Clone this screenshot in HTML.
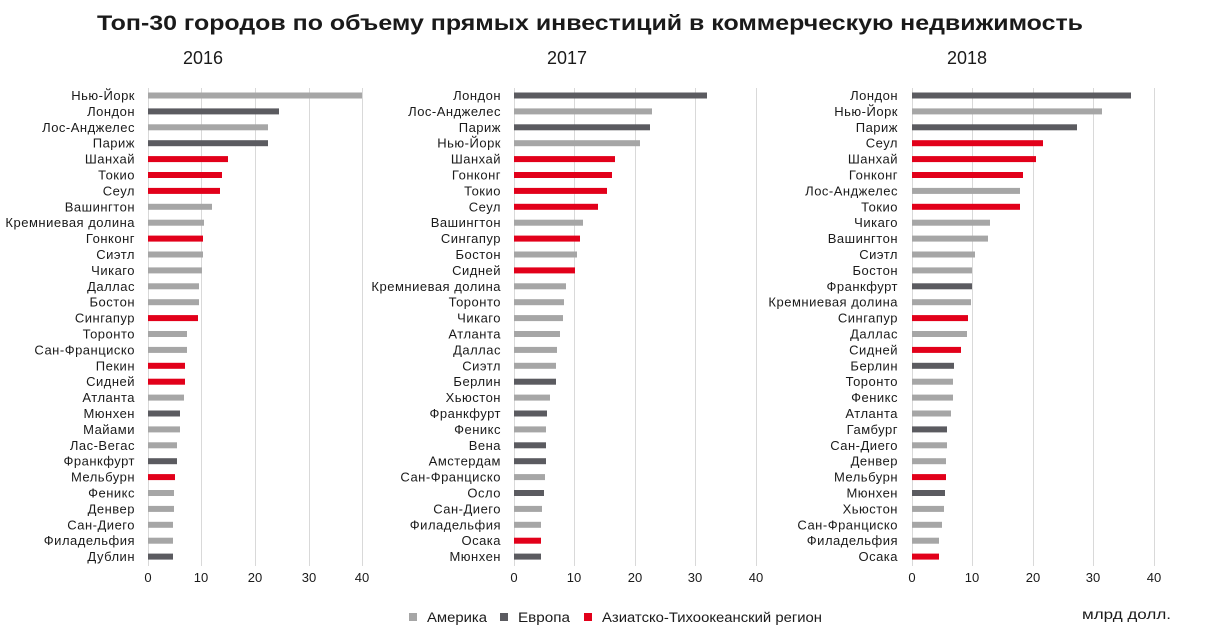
<!DOCTYPE html>
<html><head><meta charset="utf-8"><style>
html,body{margin:0;padding:0;background:#fff}
svg{display:block}
text{font-family:"Liberation Sans",Arial,sans-serif;fill:#1a1a1a}
.l{font-size:13px;letter-spacing:0.5px;text-anchor:end}
.t{font-size:13px;text-anchor:middle}
.a{fill:#a6a6a6}.e{fill:#5b5b60}.r{fill:#e2001a}
.g{stroke:#d9d9d9;stroke-width:1}
</style></head><body>
<svg width="1207" height="635" viewBox="0 0 1207 635" xmlns="http://www.w3.org/2000/svg">
<text x="590" y="30" style="font-size:21px;font-weight:bold;text-anchor:middle" textLength="986" lengthAdjust="spacingAndGlyphs">Топ-30 городов по объему прямых инвестиций в коммерческую недвижимость</text>
<text x="203" y="64" style="font-size:18px;text-anchor:middle">2016</text>
<text x="567" y="64" style="font-size:18px;text-anchor:middle">2017</text>
<text x="967" y="64" style="font-size:18px;text-anchor:middle">2018</text>

<!-- gridlines -->
<g class="g">
<line x1="148.5" y1="88" x2="148.5" y2="566"/><line x1="201.5" y1="88" x2="201.5" y2="566"/><line x1="255.5" y1="88" x2="255.5" y2="566"/><line x1="309.5" y1="88" x2="309.5" y2="566"/><line x1="362.5" y1="88" x2="362.5" y2="566"/>
<line x1="514.5" y1="88" x2="514.5" y2="566"/><line x1="574.5" y1="88" x2="574.5" y2="566"/><line x1="635.5" y1="88" x2="635.5" y2="566"/><line x1="695.5" y1="88" x2="695.5" y2="566"/><line x1="756.5" y1="88" x2="756.5" y2="566"/>
<line x1="912.5" y1="88" x2="912.5" y2="566"/><line x1="972.5" y1="88" x2="972.5" y2="566"/><line x1="1033.5" y1="88" x2="1033.5" y2="566"/><line x1="1093.5" y1="88" x2="1093.5" y2="566"/><line x1="1154.5" y1="88" x2="1154.5" y2="566"/>
</g>

<!-- tick labels -->
<text class="t" x="148" y="582">0</text><text class="t" x="201" y="582">10</text><text class="t" x="255" y="582">20</text><text class="t" x="309" y="582">30</text><text class="t" x="362" y="582">40</text>
<text class="t" x="514" y="582">0</text><text class="t" x="574" y="582">10</text><text class="t" x="635" y="582">20</text><text class="t" x="695" y="582">30</text><text class="t" x="756" y="582">40</text>
<text class="t" x="912" y="582">0</text><text class="t" x="972" y="582">10</text><text class="t" x="1033" y="582">20</text><text class="t" x="1093" y="582">30</text><text class="t" x="1154" y="582">40</text>

<!-- Panel 2016 -->
<rect class="a" x="148" y="92.5" width="214" height="6"/><text class="l" x="135" y="100">Нью-Йорк</text>
<rect class="e" x="148" y="108.4" width="131" height="6"/><text class="l" x="135" y="115.9">Лондон</text>
<rect class="a" x="148" y="124.3" width="120" height="6"/><text class="l" x="135" y="131.8">Лос-Анджелес</text>
<rect class="e" x="148" y="140.2" width="120" height="6"/><text class="l" x="135" y="147.7">Париж</text>
<rect class="r" x="148" y="156.1" width="80" height="6"/><text class="l" x="135" y="163.6">Шанхай</text>
<rect class="r" x="148" y="172" width="74" height="6"/><text class="l" x="135" y="179.5">Токио</text>
<rect class="r" x="148" y="187.9" width="72" height="6"/><text class="l" x="135" y="195.4">Сеул</text>
<rect class="a" x="148" y="203.8" width="64" height="6"/><text class="l" x="135" y="211.3">Вашингтон</text>
<rect class="a" x="148" y="219.7" width="56" height="6"/><text class="l" x="135" y="227.2">Кремниевая долина</text>
<rect class="r" x="148" y="235.6" width="55" height="6"/><text class="l" x="135" y="243.1">Гонконг</text>
<rect class="a" x="148" y="251.5" width="55" height="6"/><text class="l" x="135" y="259">Сиэтл</text>
<rect class="a" x="148" y="267.4" width="54" height="6"/><text class="l" x="135" y="274.9">Чикаго</text>
<rect class="a" x="148" y="283.3" width="51" height="6"/><text class="l" x="135" y="290.8">Даллас</text>
<rect class="a" x="148" y="299.2" width="51" height="6"/><text class="l" x="135" y="306.7">Бостон</text>
<rect class="r" x="148" y="315.1" width="50" height="6"/><text class="l" x="135" y="322.6">Сингапур</text>
<rect class="a" x="148" y="331" width="39" height="6"/><text class="l" x="135" y="338.5">Торонто</text>
<rect class="a" x="148" y="346.9" width="39" height="6"/><text class="l" x="135" y="354.4">Сан-Франциско</text>
<rect class="r" x="148" y="362.8" width="37" height="6"/><text class="l" x="135" y="370.3">Пекин</text>
<rect class="r" x="148" y="378.7" width="37" height="6"/><text class="l" x="135" y="386.2">Сидней</text>
<rect class="a" x="148" y="394.6" width="36" height="6"/><text class="l" x="135" y="402.1">Атланта</text>
<rect class="e" x="148" y="410.5" width="32" height="6"/><text class="l" x="135" y="418">Мюнхен</text>
<rect class="a" x="148" y="426.4" width="32" height="6"/><text class="l" x="135" y="433.9">Майами</text>
<rect class="a" x="148" y="442.3" width="29" height="6"/><text class="l" x="135" y="449.8">Лас-Вегас</text>
<rect class="e" x="148" y="458.2" width="29" height="6"/><text class="l" x="135" y="465.7">Франкфурт</text>
<rect class="r" x="148" y="474.1" width="27" height="6"/><text class="l" x="135" y="481.6">Мельбурн</text>
<rect class="a" x="148" y="490" width="26" height="6"/><text class="l" x="135" y="497.5">Феникс</text>
<rect class="a" x="148" y="505.9" width="26" height="6"/><text class="l" x="135" y="513.4">Денвер</text>
<rect class="a" x="148" y="521.8" width="25" height="6"/><text class="l" x="135" y="529.3">Сан-Диего</text>
<rect class="a" x="148" y="537.7" width="25" height="6"/><text class="l" x="135" y="545.2">Филадельфия</text>
<rect class="e" x="148" y="553.6" width="25" height="6"/><text class="l" x="135" y="561.1">Дублин</text>

<!-- Panel 2017 -->
<rect class="e" x="514" y="92.5" width="193" height="6"/><text class="l" x="501" y="100">Лондон</text>
<rect class="a" x="514" y="108.4" width="138" height="6"/><text class="l" x="501" y="115.9">Лос-Анджелес</text>
<rect class="e" x="514" y="124.3" width="136" height="6"/><text class="l" x="501" y="131.8">Париж</text>
<rect class="a" x="514" y="140.2" width="126" height="6"/><text class="l" x="501" y="147.7">Нью-Йорк</text>
<rect class="r" x="514" y="156.1" width="101" height="6"/><text class="l" x="501" y="163.6">Шанхай</text>
<rect class="r" x="514" y="172" width="98" height="6"/><text class="l" x="501" y="179.5">Гонконг</text>
<rect class="r" x="514" y="187.9" width="93" height="6"/><text class="l" x="501" y="195.4">Токио</text>
<rect class="r" x="514" y="203.8" width="84" height="6"/><text class="l" x="501" y="211.3">Сеул</text>
<rect class="a" x="514" y="219.7" width="69" height="6"/><text class="l" x="501" y="227.2">Вашингтон</text>
<rect class="r" x="514" y="235.6" width="66" height="6"/><text class="l" x="501" y="243.1">Сингапур</text>
<rect class="a" x="514" y="251.5" width="63" height="6"/><text class="l" x="501" y="259">Бостон</text>
<rect class="r" x="514" y="267.4" width="61" height="6"/><text class="l" x="501" y="274.9">Сидней</text>
<rect class="a" x="514" y="283.3" width="52" height="6"/><text class="l" x="501" y="290.8">Кремниевая долина</text>
<rect class="a" x="514" y="299.2" width="50" height="6"/><text class="l" x="501" y="306.7">Торонто</text>
<rect class="a" x="514" y="315.1" width="49" height="6"/><text class="l" x="501" y="322.6">Чикаго</text>
<rect class="a" x="514" y="331" width="46" height="6"/><text class="l" x="501" y="338.5">Атланта</text>
<rect class="a" x="514" y="346.9" width="43" height="6"/><text class="l" x="501" y="354.4">Даллас</text>
<rect class="a" x="514" y="362.8" width="42" height="6"/><text class="l" x="501" y="370.3">Сиэтл</text>
<rect class="e" x="514" y="378.7" width="42" height="6"/><text class="l" x="501" y="386.2">Берлин</text>
<rect class="a" x="514" y="394.6" width="36" height="6"/><text class="l" x="501" y="402.1">Хьюстон</text>
<rect class="e" x="514" y="410.5" width="33" height="6"/><text class="l" x="501" y="418">Франкфурт</text>
<rect class="a" x="514" y="426.4" width="32" height="6"/><text class="l" x="501" y="433.9">Феникс</text>
<rect class="e" x="514" y="442.3" width="32" height="6"/><text class="l" x="501" y="449.8">Вена</text>
<rect class="e" x="514" y="458.2" width="32" height="6"/><text class="l" x="501" y="465.7">Амстердам</text>
<rect class="a" x="514" y="474.1" width="31" height="6"/><text class="l" x="501" y="481.6">Сан-Франциско</text>
<rect class="e" x="514" y="490" width="30" height="6"/><text class="l" x="501" y="497.5">Осло</text>
<rect class="a" x="514" y="505.9" width="28" height="6"/><text class="l" x="501" y="513.4">Сан-Диего</text>
<rect class="a" x="514" y="521.8" width="27" height="6"/><text class="l" x="501" y="529.3">Филадельфия</text>
<rect class="r" x="514" y="537.7" width="27" height="6"/><text class="l" x="501" y="545.2">Осака</text>
<rect class="e" x="514" y="553.6" width="27" height="6"/><text class="l" x="501" y="561.1">Мюнхен</text>

<!-- Panel 2018 -->
<rect class="e" x="912" y="92.5" width="219" height="6"/><text class="l" x="898" y="100">Лондон</text>
<rect class="a" x="912" y="108.4" width="190" height="6"/><text class="l" x="898" y="115.9">Нью-Йорк</text>
<rect class="e" x="912" y="124.3" width="165" height="6"/><text class="l" x="898" y="131.8">Париж</text>
<rect class="r" x="912" y="140.2" width="131" height="6"/><text class="l" x="898" y="147.7">Сеул</text>
<rect class="r" x="912" y="156.1" width="124" height="6"/><text class="l" x="898" y="163.6">Шанхай</text>
<rect class="r" x="912" y="172" width="111" height="6"/><text class="l" x="898" y="179.5">Гонконг</text>
<rect class="a" x="912" y="187.9" width="108" height="6"/><text class="l" x="898" y="195.4">Лос-Анджелес</text>
<rect class="r" x="912" y="203.8" width="108" height="6"/><text class="l" x="898" y="211.3">Токио</text>
<rect class="a" x="912" y="219.7" width="78" height="6"/><text class="l" x="898" y="227.2">Чикаго</text>
<rect class="a" x="912" y="235.6" width="76" height="6"/><text class="l" x="898" y="243.1">Вашингтон</text>
<rect class="a" x="912" y="251.5" width="63" height="6"/><text class="l" x="898" y="259">Сиэтл</text>
<rect class="a" x="912" y="267.4" width="60" height="6"/><text class="l" x="898" y="274.9">Бостон</text>
<rect class="e" x="912" y="283.3" width="60" height="6"/><text class="l" x="898" y="290.8">Франкфурт</text>
<rect class="a" x="912" y="299.2" width="59" height="6"/><text class="l" x="898" y="306.7">Кремниевая долина</text>
<rect class="r" x="912" y="315.1" width="56" height="6"/><text class="l" x="898" y="322.6">Сингапур</text>
<rect class="a" x="912" y="331" width="55" height="6"/><text class="l" x="898" y="338.5">Даллас</text>
<rect class="r" x="912" y="346.9" width="49" height="6"/><text class="l" x="898" y="354.4">Сидней</text>
<rect class="e" x="912" y="362.8" width="42" height="6"/><text class="l" x="898" y="370.3">Берлин</text>
<rect class="a" x="912" y="378.7" width="41" height="6"/><text class="l" x="898" y="386.2">Торонто</text>
<rect class="a" x="912" y="394.6" width="41" height="6"/><text class="l" x="898" y="402.1">Феникс</text>
<rect class="a" x="912" y="410.5" width="39" height="6"/><text class="l" x="898" y="418">Атланта</text>
<rect class="e" x="912" y="426.4" width="35" height="6"/><text class="l" x="898" y="433.9">Гамбург</text>
<rect class="a" x="912" y="442.3" width="35" height="6"/><text class="l" x="898" y="449.8">Сан-Диего</text>
<rect class="a" x="912" y="458.2" width="34" height="6"/><text class="l" x="898" y="465.7">Денвер</text>
<rect class="r" x="912" y="474.1" width="34" height="6"/><text class="l" x="898" y="481.6">Мельбурн</text>
<rect class="e" x="912" y="490" width="33" height="6"/><text class="l" x="898" y="497.5">Мюнхен</text>
<rect class="a" x="912" y="505.9" width="32" height="6"/><text class="l" x="898" y="513.4">Хьюстон</text>
<rect class="a" x="912" y="521.8" width="30" height="6"/><text class="l" x="898" y="529.3">Сан-Франциско</text>
<rect class="a" x="912" y="537.7" width="27" height="6"/><text class="l" x="898" y="545.2">Филадельфия</text>
<rect class="r" x="912" y="553.6" width="27" height="6"/><text class="l" x="898" y="561.1">Осака</text>

<!-- legend -->
<rect class="a" x="409" y="613" width="8" height="8"/>
<text x="427" y="622" style="font-size:13.5px" textLength="60" lengthAdjust="spacingAndGlyphs">Америка</text>
<rect class="e" x="500" y="613" width="8" height="8"/>
<text x="518" y="622" style="font-size:13.5px" textLength="52" lengthAdjust="spacingAndGlyphs">Европа</text>
<rect class="r" x="584" y="613" width="8" height="8"/>
<text x="602" y="622" style="font-size:13.5px" textLength="220" lengthAdjust="spacingAndGlyphs">Азиатско-Тихоокеанский регион</text>
<text x="1082" y="619" style="font-size:13.5px" textLength="89" lengthAdjust="spacingAndGlyphs">млрд долл.</text>
</svg>
</body></html>
